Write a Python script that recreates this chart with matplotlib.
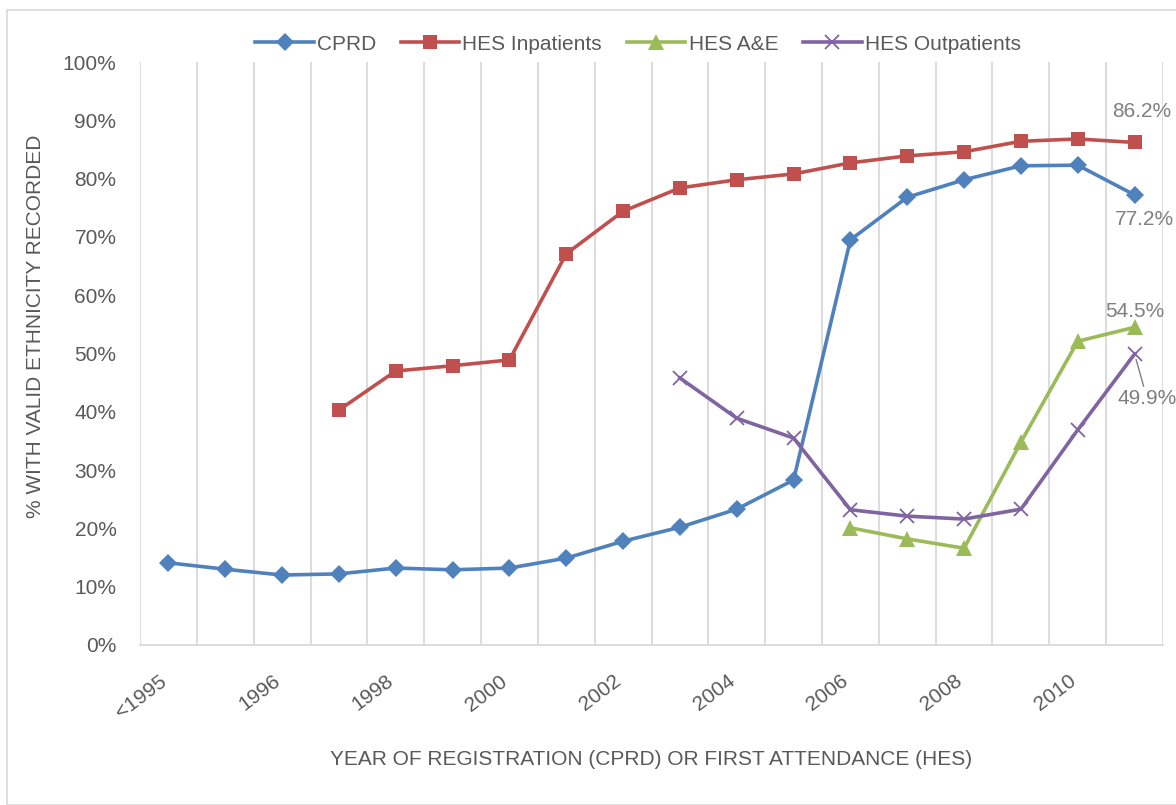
import numpy as np
import matplotlib.pyplot as plt
import matplotlib.transforms as mtransforms
from matplotlib.patches import Rectangle

plt.rcParams["font.family"] = ["Liberation Sans", "DejaVu Sans"]

years = ["<1995"] + [str(y) for y in range(1995, 2012)]
nan = np.nan

cprd = [14.1, 13.0, 12.0, 12.2, 13.2, 12.9, 13.2, 14.9, 17.8, 20.2,
        23.3, 28.3, 69.5, 76.8, 79.8, 82.2, 82.3, 77.2]
hes_inpatients = [nan, nan, nan, 40.3, 47.0, 47.9, 48.9, 67.1, 74.4, 78.4,
                  79.8, 80.8, 82.7, 83.9, 84.6, 86.4, 86.8, 86.2]
hes_ae = [nan] * 12 + [20.1, 18.2, 16.6, 34.8, 52.1, 54.5]
hes_outpatients = [nan] * 9 + [45.8, 38.9, 35.5, 23.2, 22.1, 21.6, 23.3, 36.9, 49.9]

grey = "#595959"
grid = "#d9d9d9"
fs = 15

fig = plt.figure(figsize=(11.76, 8.05), dpi=100)
fig.patches.append(Rectangle((7 / 1176, 0.0), 1.2, 1 - 10 / 805, transform=fig.transFigure,
                             fill=False, edgecolor=grid, linewidth=1.2))
ax = fig.add_axes([140 / 1176, 1 - 645 / 805, (1163 - 140) / 1176, (645 - 62) / 805])

x = np.arange(len(years))
series = [
    ("CPRD", cprd, "#4F81BD", "D", 9),
    ("HES Inpatients", hes_inpatients, "#C0504D", "s", 10),
    ("HES A&E", hes_ae, "#9BBB59", "^", 11),
    ("HES Outpatients", hes_outpatients, "#8064A2", "x", 10),
]
for name, vals, col, mk, ms in series:
    ax.plot(x, vals, color=col, lw=2.6, marker=mk, markersize=ms,
            markeredgewidth=1.3 if mk == "x" else 0, label=name, zorder=3)

ax.set_xlim(-0.5, len(years) - 0.5)
ax.set_ylim(0, 100)
ax.set_yticks(np.arange(0, 101, 10))
ax.set_yticklabels([f"{v}%" for v in range(0, 101, 10)])
ax.set_xticks(x[::2])
for b in np.arange(-0.5, len(years), 1.0):
    ax.axvline(b, color=grid, lw=1.3, zorder=0)
ax.tick_params(axis="both", length=0, labelsize=fs, colors=grey)
ax.tick_params(axis="y", pad=17)
ax.tick_params(axis="x", pad=19)
ax.set_xticklabels(years[::2], rotation=37, ha="right", rotation_mode="anchor")
# nudge the slanted year labels left so their ends sit under the points
shift = mtransforms.ScaledTranslation(-10 / 100, 0, fig.dpi_scale_trans)
for t in ax.get_xticklabels():
    t.set_transform(t.get_transform() + shift)
for s in ["top", "right", "left"]:
    ax.spines[s].set_visible(False)
ax.spines["bottom"].set_color(grid)
ax.spines["bottom"].set_linewidth(1.3)

ax.set_xlabel("YEAR OF REGISTRATION (CPRD) OR FIRST ATTENDANCE (HES)", fontsize=fs,
              color=grey, labelpad=20)
ax.set_ylabel("% WITH VALID ETHNICITY RECORDED", fontsize=fs, color=grey)
ax.yaxis.set_label_coords(-0.093, 0.546)

lab = "#7f7f7f"
last = len(years) - 1
ax.annotate(f"{hes_inpatients[-1]}%", (last, hes_inpatients[-1]), xytext=(5, 22),
            textcoords="offset points", ha="center", va="center", fontsize=fs, color=lab)
ax.annotate(f"{cprd[-1]}%", (last, cprd[-1]), xytext=(7, -18),
            textcoords="offset points", ha="center", va="center", fontsize=fs, color=lab)
ax.annotate(f"{hes_ae[-1]}%", (last, hes_ae[-1]), xytext=(0, 11),
            textcoords="offset points", ha="center", va="center", fontsize=fs, color=lab)
ax.annotate(f"{hes_outpatients[-1]}%", (last, hes_outpatients[-1]), xytext=(9, -32),
            textcoords="offset points", ha="center", va="center", fontsize=fs, color=lab,
            arrowprops=dict(arrowstyle="-", color=lab, lw=1, shrinkA=0, shrinkB=4))

fig.legend(loc="center", bbox_to_anchor=(638 / 1176, 1 - 44 / 805), ncol=4, frameon=False,
           fontsize=fs, labelcolor=grey, handlelength=2.8, columnspacing=1.2,
           handletextpad=0.15)

fig.savefig("out.png", dpi=100)
